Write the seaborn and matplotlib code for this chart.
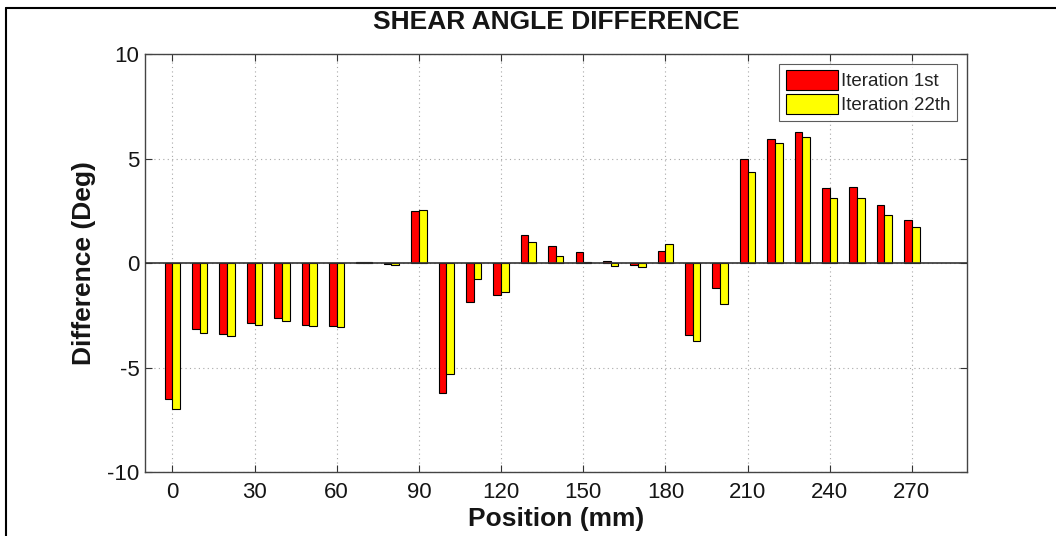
import matplotlib
matplotlib.use("Agg")
import matplotlib.pyplot as plt
from matplotlib.lines import Line2D
import numpy as np
import pandas as pd
import seaborn as sns

# Measurement positions along the sample (mm)
positions = [0, 10, 20, 30, 40, 50, 60, 70, 80, 90,
             100, 110, 120, 130, 140, 150, 160, 170, 180, 190,
             200, 210, 220, 230, 240, 250, 260, 270]

# Shear angle difference (deg) after the first iteration
iter_1st = [-6.50, -3.16, -3.38, -2.87, -2.65, -2.95, -3.00, 0.05, -0.04, 2.47,
            -6.22, -1.88, -1.53, 1.32, 0.83, 0.53, 0.12, -0.10, 0.56, -3.45,
            -1.17, 4.98, 5.93, 6.25, 3.59, 3.62, 2.76, 2.07]

# Shear angle difference (deg) after the 22nd iteration
iter_22th = [-7.00, -3.35, -3.51, -2.98, -2.79, -3.00, -3.06, 0.03, -0.08, 2.55,
             -5.30, -0.77, -1.40, 1.03, 0.35, 0.03, -0.15, -0.20, 0.89, -3.75,
             -1.96, 4.34, 5.77, 6.03, 3.11, 3.11, 2.31, 1.72]

series_names = ["Iteration 1st", "Iteration 22th"]
series_colors = ["#ff0000", "#ffff00"]

y_ticks = [-10, -5, 0, 5, 10]
x_ticks = [0, 30, 60, 90, 120, 150, 180, 210, 240, 270]

df = pd.DataFrame({
    "Position": positions * 2,
    "Difference": iter_1st + iter_22th,
    "Series": [series_names[0]] * len(positions) + [series_names[1]] * len(positions),
})

sns.set_theme(style="white")
plt.rcParams["font.family"] = ["Liberation Sans", "DejaVu Sans"]
ink = "#151515"

fig = plt.figure(figsize=(10.56, 5.36), dpi=100)
ax = fig.add_axes([0.1373, 0.1194, 0.7781, 0.7796])

sns.barplot(
    data=df, x="Position", y="Difference", hue="Series",
    palette=series_colors, native_scale=True, width=0.56,
    edgecolor="black", linewidth=0.8, errorbar=None, dodge=True,
    saturation=1.0, ax=ax, zorder=3,
)

ax.set_xlim(-10, 290)
ax.set_ylim(-10, 10)
ax.set_xticks(x_ticks)
ax.set_yticks(y_ticks)
ax.set_xticklabels([str(t) for t in x_ticks], fontsize=16, color=ink)
ax.set_yticklabels([str(t) for t in y_ticks], fontsize=16, color=ink)
ax.tick_params(direction="in", length=5, width=0.8, color="#333333",
               top=True, right=True, bottom=True, left=True)
ax.tick_params(axis="x", pad=7)
ax.tick_params(axis="y", pad=4)

ax.grid(True, linestyle=(0, (1, 3)), color="#a8a8a8", linewidth=0.8, zorder=0)
ax.axhline(0, color="#333333", linewidth=1.2, zorder=4)
for side in ax.spines.values():
    side.set_color("#444444")
    side.set_linewidth(1.0)

ax.set_title("SHEAR ANGLE DIFFERENCE", fontsize=19, fontweight="bold",
             color=ink, pad=18)
ax.set_xlabel("Position (mm)", fontsize=19, fontweight="bold",
              color=ink, labelpad=3)
ax.set_ylabel("Difference (Deg)", fontsize=19, fontweight="bold",
              color=ink, labelpad=8)

leg = ax.legend(loc="upper right", fontsize=13.5, frameon=True, fancybox=False,
                handlelength=2.8, handleheight=1.25, handletextpad=0.15,
                borderpad=0.35, labelspacing=0.2, borderaxespad=0.5)
leg.get_frame().set_edgecolor("#333333")
leg.get_frame().set_linewidth(0.8)
for txt in leg.get_texts():
    txt.set_color("#222222")

# Frame lines along the top and left of the figure
fig.add_artist(Line2D([6 / 1056, 1.0], [1 - 8 / 536, 1 - 8 / 536],
                      transform=fig.transFigure, color="black", linewidth=1.5))
fig.add_artist(Line2D([6 / 1056, 6 / 1056], [0.0, 1 - 8 / 536],
                      transform=fig.transFigure, color="black", linewidth=1.5))

fig.savefig("out.png", dpi=100, facecolor="white")
